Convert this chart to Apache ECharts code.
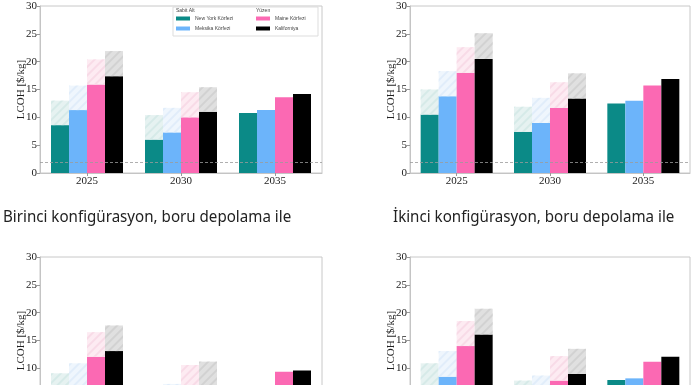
<!DOCTYPE html>
<html>
<head>
<meta charset="utf-8">
<script src="https://cdn.jsdelivr.net/npm/echarts@6/dist/echarts.min.js"></script>
<style>
html,body{margin:0;padding:0;background:#fff;}
#chart{width:696px;height:385px;}
</style>
</head>
<body>
<div id="chart"></div>
<script>
// ---- data ----
const categories = ['2025', '2030', '2035'];
const regionNames = ['New York Körfezi', 'Meksika Körfezi', 'Maine Körfezi', 'Kaliforniya'];
const legendGroups = ['Sabit Alt', 'Yüzen'];
const captions = ['Birinci konfigürasyon, boru depolama ile', 'İkinci konfigürasyon, boru depolama ile'];
const yName = 'LCOH [$/kg]';
const refLine = 2;

// panel 1 (top-left): solid values and totals with storage
const p1NewYork = [8.6, 6.0, 10.8];
const p1NewYorkStorage = [13.0, 10.4, null];
const p1Mexico = [11.3, 7.3, 11.3];
const p1MexicoStorage = [15.7, 11.7, null];
const p1Maine = [15.9, 10.0, 13.6];
const p1MaineStorage = [20.4, 14.5, null];
const p1California = [17.4, 11.0, 14.2];
const p1CaliforniaStorage = [21.9, 15.4, null];

// panel 2 (top-right)
const p2NewYork = [10.5, 7.4, 12.5];
const p2NewYorkStorage = [15.0, 11.9, null];
const p2Mexico = [13.8, 9.0, 13.0];
const p2MexicoStorage = [18.3, 13.5, null];
const p2Maine = [18.0, 11.7, 15.7];
const p2MaineStorage = [22.6, 16.3, null];
const p2California = [20.5, 13.4, 16.9];
const p2CaliforniaStorage = [25.1, 17.9, null];

// panel 3 (bottom-left, partly cut off)
const p3NewYork = [4.6, 1.8, 6.4];
const p3NewYorkStorage = [9.1, 6.3, null];
const p3Mexico = [6.4, 2.7, 6.8];
const p3MexicoStorage = [10.9, 7.2, null];
const p3Maine = [12.1, 6.1, 9.4];
const p3MaineStorage = [16.5, 10.6, null];
const p3California = [13.1, 6.7, 9.6];
const p3CaliforniaStorage = [17.7, 11.2, null];

// panel 4 (bottom-right, partly cut off)
const p4NewYork = [6.4, 3.3, 7.9];
const p4NewYorkStorage = [10.9, 7.8, null];
const p4Mexico = [8.5, 4.2, 8.2];
const p4MexicoStorage = [13.1, 8.7, null];
const p4Maine = [14.0, 7.8, 11.2];
const p4MaineStorage = [18.5, 12.2, null];
const p4California = [16.1, 9.0, 12.1];
const p4CaliforniaStorage = [20.7, 13.5, null];

const panels = [
  [[p1NewYork, p1NewYorkStorage], [p1Mexico, p1MexicoStorage], [p1Maine, p1MaineStorage], [p1California, p1CaliforniaStorage]],
  [[p2NewYork, p2NewYorkStorage], [p2Mexico, p2MexicoStorage], [p2Maine, p2MaineStorage], [p2California, p2CaliforniaStorage]],
  [[p3NewYork, p3NewYorkStorage], [p3Mexico, p3MexicoStorage], [p3Maine, p3MaineStorage], [p3California, p3CaliforniaStorage]],
  [[p4NewYork, p4NewYorkStorage], [p4Mexico, p4MexicoStorage], [p4Maine, p4MaineStorage], [p4California, p4CaliforniaStorage]]
];

// ---- styles ----
const solidColors = ['#0b8a87', '#6cb4fa', '#fb69b3', '#000000'];
const hatchFill = ['#e6f2f1', '#eff6fd', '#fdebf2', '#e0e0e0'];
const hatchLine = ['#d6eae8', '#e1edfa', '#f8dbe7', '#d2d2d2'];
const grids = [
  {left: 40, top: 6, width: 282, height: 167},
  {left: 410, top: 6, width: 280, height: 167},
  {left: 40, top: 257, width: 282, height: 167},
  {left: 410, top: 257, width: 280, height: 167}
];
const serif = '"Liberation Serif", "DejaVu Serif", serif';

const xAxes = [], yAxes = [], series = [];
grids.forEach((g, gi) => {
  xAxes.push({
    type: 'category', gridIndex: gi, data: categories,
    axisLine: {lineStyle: {color: '#c4c4c4', width: 1}},
    axisTick: {show: true, alignWithLabel: true, length: 3, lineStyle: {color: '#999'}},
    axisLabel: {fontFamily: serif, fontSize: 11, color: '#222', margin: 3}
  });
  yAxes.push({
    type: 'value', gridIndex: gi, min: 0, max: 30, interval: 5,
    name: yName, nameLocation: 'middle', nameGap: 13, nameMoveOverlap: false,
    nameTextStyle: {fontFamily: serif, fontSize: 11, color: '#222'},
    axisLine: {show: true, lineStyle: {color: '#c4c4c4', width: 1}},
    axisTick: {show: true, length: 3, lineStyle: {color: '#999'}},
    axisLabel: {fontFamily: serif, fontSize: 11, color: '#222', margin: 3},
    splitLine: {show: false}
  });
  panels[gi].forEach((pair, ci) => {
    const solid = pair[0], total = pair[1];
    series.push({
      name: regionNames[ci], type: 'bar', xAxisIndex: gi, yAxisIndex: gi,
      stack: 'p' + gi + 'c' + ci, barWidth: 18, barGap: '0%',
      itemStyle: {color: solidColors[ci]},
      data: solid, z: 3
    });
    series.push({
      name: regionNames[ci] + ' (depolama)', type: 'bar', xAxisIndex: gi, yAxisIndex: gi,
      stack: 'p' + gi + 'c' + ci, barWidth: 18, barGap: '0%',
      itemStyle: {
        color: hatchFill[ci],
        decal: {symbol: 'rect', symbolSize: 1, dashArrayX: [1, 0], dashArrayY: [1.5, 3.5],
          rotation: -Math.PI / 4, color: hatchLine[ci]}
      },
      data: total.map((t, i) => t == null ? null : +(t - solid[i]).toFixed(2)), z: 3
    });
  });
  series.push({
    name: 'ref' + gi, type: 'line', xAxisIndex: gi, yAxisIndex: gi, data: [], z: 1,
    markLine: {silent: true, symbol: 'none', label: {show: false},
      lineStyle: {color: '#9a9a9a', width: 0.8, type: [3, 2]},
      data: [{yAxis: refLine}]}
  });
});

const legendBase = {
  orient: 'vertical', itemWidth: 14, itemHeight: 4, itemGap: 5, icon: 'rect',
  textStyle: {fontSize: 5, color: '#444', fontFamily: 'Liberation Sans, sans-serif'},
  padding: 0, z: 10
};

const option = {
  animation: false,
  backgroundColor: '#fff',
  grid: grids.map(g => Object.assign({show: true, borderColor: '#c8c8c8', borderWidth: 1,
    backgroundColor: 'transparent', outerBoundsMode: 'none', containLabel: false}, g)),
  xAxis: xAxes,
  yAxis: yAxes,
  legend: [
    Object.assign({}, legendBase, {left: 176, top: 16, data: regionNames.slice(0, 2)}),
    Object.assign({}, legendBase, {left: 256, top: 16, data: regionNames.slice(2, 4)})
  ],
  graphic: [
    {type: 'rect', shape: {x: 173, y: 7, width: 145, height: 29}, style: {fill: '#fff', stroke: '#dddddd', lineWidth: 1}, z: 5},
    {type: 'text', x: 176, y: 8, style: {text: legendGroups[0], fontSize: 5, fill: '#444', fontFamily: 'Liberation Sans, sans-serif'}, z: 10},
    {type: 'text', x: 256, y: 8, style: {text: legendGroups[1], fontSize: 5, fill: '#444', fontFamily: 'Liberation Sans, sans-serif'}, z: 10},
    {type: 'text', x: 3, y: 209, scaleX: 0.89, style: {text: captions[0], fontSize: 17, fill: '#222', fontFamily: '"Noto Sans", sans-serif'}},
    {type: 'text', x: 393, y: 209, scaleX: 0.89, style: {text: captions[1], fontSize: 17, fill: '#222', fontFamily: '"Noto Sans", sans-serif'}}
  ],
  series: series
};

const chart = echarts.init(document.getElementById('chart'), null, {renderer: 'canvas'});
chart.setOption(option);
</script>
</body>
</html>
